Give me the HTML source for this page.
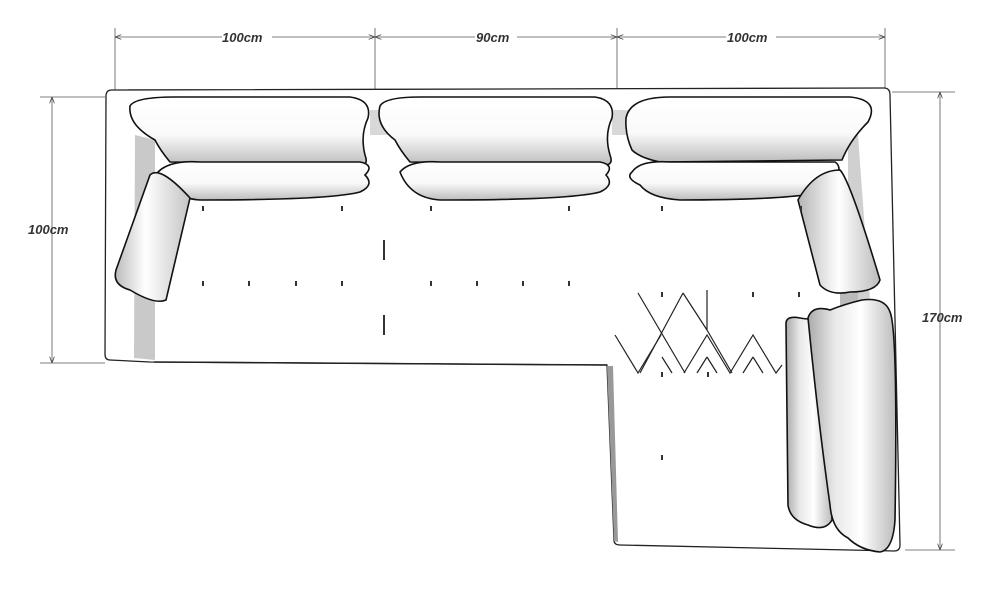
<!DOCTYPE html>
<html><head><style>
html,body{margin:0;padding:0;background:#fff;width:1000px;height:598px;overflow:hidden}
text{font-family:"Liberation Sans",sans-serif;font-weight:bold;font-style:italic;font-size:13px;fill:#333}
</style></head><body>
<svg width="1000" height="598" viewBox="0 0 1000 598" xmlns="http://www.w3.org/2000/svg">
<defs>
<linearGradient id="pv" x1="0" y1="0" x2="0" y2="1">
<stop offset="0" stop-color="#fff"/><stop offset="0.55" stop-color="#fafafa"/><stop offset="1" stop-color="#bdbdbd"/></linearGradient>
<linearGradient id="ph" x1="0" y1="0" x2="1" y2="0">
<stop offset="0" stop-color="#bbb"/><stop offset="0.4" stop-color="#fff"/><stop offset="1" stop-color="#c4c4c4"/></linearGradient>
<linearGradient id="pr" x1="0" y1="0" x2="1" y2="0">
<stop offset="0" stop-color="#b5b5b5"/><stop offset="0.5" stop-color="#fff"/><stop offset="1" stop-color="#bbb"/></linearGradient>
<linearGradient id="pr2" x1="0" y1="0" x2="1" y2="0">
<stop offset="0" stop-color="#aaa"/><stop offset="0.3" stop-color="#e8e8e8"/><stop offset="0.6" stop-color="#fff"/><stop offset="1" stop-color="#bbb"/></linearGradient>
<marker id="a" markerWidth="8" markerHeight="6" refX="8" refY="3" orient="auto"><path d="M0,0L8,3L0,6" fill="none" stroke="#444" stroke-width="1"/></marker>
<marker id="b" markerWidth="8" markerHeight="6" refX="0" refY="3" orient="auto"><path d="M8,0L0,3L8,6" fill="none" stroke="#444" stroke-width="1"/></marker>
</defs>
<g stroke="#555" stroke-width="0.8" fill="none">
<line x1="115" y1="28" x2="115" y2="90"/><line x1="375" y1="28" x2="375" y2="100"/><line x1="617" y1="28" x2="617" y2="100"/><line x1="885" y1="28" x2="885" y2="90"/>
<line x1="115" y1="37" x2="375" y2="37" marker-start="url(#b)" marker-end="url(#a)"/>
<line x1="375" y1="37" x2="617" y2="37" marker-start="url(#b)" marker-end="url(#a)"/>
<line x1="617" y1="37" x2="885" y2="37" marker-start="url(#b)" marker-end="url(#a)"/>
<line x1="40" y1="97" x2="105" y2="97"/><line x1="40" y1="363" x2="105" y2="363"/>
<line x1="52" y1="97" x2="52" y2="363" marker-start="url(#b)" marker-end="url(#a)"/>
<line x1="892" y1="92" x2="955" y2="92"/><line x1="905" y1="550" x2="955" y2="550"/>
<line x1="940" y1="92" x2="940" y2="550" marker-start="url(#b)" marker-end="url(#a)"/>
</g>
<rect x="222" y="30" width="50" height="14" fill="#fff"/><text x="222" y="42">100cm</text>
<rect x="475" y="30" width="42" height="14" fill="#fff"/><text x="476" y="42">90cm</text>
<rect x="726" y="30" width="50" height="14" fill="#fff"/><text x="727" y="42">100cm</text>
<text x="28" y="234">100cm</text>
<text x="922" y="322">170cm</text>
<path d="M112,90 L884,88 Q890,88 890,95 L900,545 Q900,551 894,551 L620,545 Q614,545 614,540 L607,365 L150,362 L110,360 Q105,360 105,354 L106,96 Q106,90 112,90 Z" fill="#fff" stroke="#222" stroke-width="1.3"/>
<path d="M154,362 L607,365" stroke="#222" stroke-width="1.5"/>
<path d="M607,366 L613,366 L618,542 L614,541 Z" fill="#999"/>
<path d="M135,135 L155,140 L155,360 L134,358 Z" fill="#c9c9c9"/>
<path d="M858,135 L848,135 L848,300 L870,300 Z" fill="#d0d0d0"/>
<path d="M840,290 L858,290 L858,312 L840,312 Z" fill="#bbb"/>
<path d="M370,110 L390,110 L390,135 L370,135 Z" fill="#d8d8d8"/>
<path d="M612,110 L632,110 L632,135 L612,135 Z" fill="#d8d8d8"/>
<g stroke="#111" stroke-width="1.6">
<path d="M130,106 Q135,97 175,97 L350,97 Q372,100 368,118 Q360,135 365,155 Q370,168 355,164 L170,162 Q160,150 155,140 Q128,125 130,106 Z" fill="url(#pv)"/>
<path d="M380,106 Q385,97 420,97 L595,97 Q615,100 612,118 Q604,135 610,155 Q615,168 598,164 L410,162 Q400,150 395,140 Q375,125 380,106 Z" fill="url(#pv)"/>
<path d="M626,118 Q630,97 670,97 L850,97 Q880,100 868,122 Q850,140 842,160 L660,162 Q640,158 632,150 Q625,135 626,118 Z" fill="url(#pv)"/>
<path d="M158,172 Q170,160 200,162 L360,162 Q375,165 365,175 Q375,185 360,192 Q330,200 200,200 Q170,198 158,172 Z" fill="url(#pv)"/>
<path d="M400,172 Q410,160 440,162 L600,162 Q615,165 606,175 Q615,185 600,192 Q570,200 440,200 Q410,198 400,172 Z" fill="url(#pv)"/>
<path d="M632,172 Q640,160 670,162 L835,162 Q845,168 830,190 Q800,200 680,200 Q650,198 640,185 Q625,178 632,172 Z" fill="url(#pv)"/>
<path d="M150,175 Q160,165 190,198 L166,300 Q155,305 130,290 Q112,285 116,270 Z" fill="url(#ph)"/>
<path d="M798,200 Q815,170 840,170 Q850,180 880,280 Q876,292 850,292 Q830,296 820,285 Z" fill="url(#pr)"/>
<path d="M786,325 Q785,315 800,318 Q820,322 822,310 L828,320 L832,520 Q825,532 808,525 Q790,520 788,505 Z" fill="url(#pr2)"/>
<path d="M808,318 Q812,305 830,310 Q845,304 862,300 Q885,297 890,312 Q898,330 895,520 Q893,550 880,552 Q860,550 848,538 Q832,530 830,505 Q818,420 808,318 Z" fill="url(#pr2)"/>
</g>
<g stroke="#222" stroke-width="1.2" fill="none">
<path d="M638,293 L685,373 M683,293 L640,373 M707,290 L707,330 L732,373"/>
<path d="M615,335 L638,373 L661,335 M683,293 L707,330"/>
<path d="M684,373 L707,335 L730,373 L753,335 L776,373 L782,365"/>
<path d="M662,357 L672,373 M707,357 L697,373 M707,357 L717,373 M753,357 L743,373 M753,357 L763,373"/>
</g>
<g fill="#333">
<rect x="202" y="206" width="2" height="5"/><rect x="341" y="206" width="2" height="5"/><rect x="430" y="206" width="2" height="5"/><rect x="568" y="206" width="2" height="5"/><rect x="661" y="206" width="2" height="5"/><rect x="800" y="206" width="2" height="5"/>
<rect x="202" y="281" width="2" height="5"/><rect x="248" y="281" width="2" height="5"/><rect x="295" y="281" width="2" height="5"/><rect x="341" y="281" width="2" height="5"/><rect x="430" y="281" width="2" height="5"/><rect x="476" y="281" width="2" height="5"/><rect x="522" y="281" width="2" height="5"/><rect x="568" y="281" width="2" height="5"/><rect x="661" y="292" width="2" height="5"/><rect x="752" y="292" width="2" height="5"/><rect x="798" y="292" width="2" height="5"/>
<rect x="383" y="240" width="2" height="20"/><rect x="383" y="315" width="2" height="20"/>
<rect x="661" y="372" width="2" height="5"/><rect x="707" y="372" width="2" height="5"/><rect x="661" y="455" width="2" height="5"/>
</g>
</svg>
</body></html>
